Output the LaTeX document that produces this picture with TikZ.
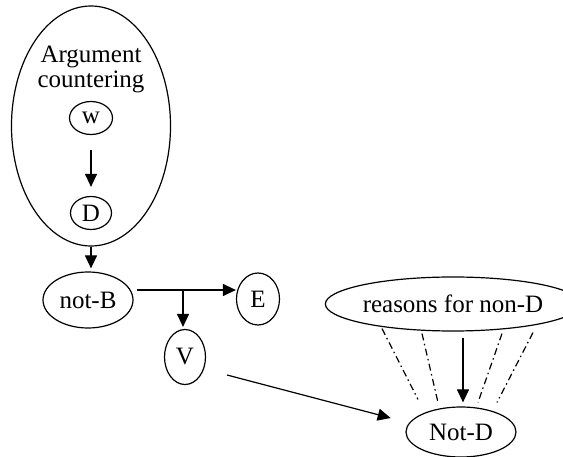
\documentclass[tikz,border=0pt]{standalone}
\usepackage{fontspec}
\setmainfont{Liberation Serif}
\usetikzlibrary{shapes.geometric,arrows.meta,calc}
\begin{document}
\begin{tikzpicture}[x=1pt,y=-1pt,
  every node/.style={font=\fontsize{25}{24.5}\selectfont},
  oval/.style={draw,ellipse,line width=1.2pt,inner sep=0pt},
  arr/.style={line width=1.2pt,-{Triangle[length=13pt,width=12pt]}},
  dd/.style={line width=1.2pt,dash pattern=on 7pt off 3.5pt on 1.5pt off 3.5pt}]
\useasboundingbox (0,0) rectangle (563,457);
\node[oval,minimum width=159pt,minimum height=240pt] (arg) at (91,126) {};
\node[align=center,inner sep=0pt] (argtxt) at (91,69.5) {Argument\\countering};
\node[oval,minimum width=43pt,minimum height=33pt] (w) at (91,118) {w};
\node[oval,minimum width=41pt,minimum height=33pt] (D) at (91,213) {D};
\node[oval,minimum width=90pt,minimum height=56pt] (notB) at (88,300) {not-B};
\node[oval,minimum width=43pt,minimum height=52pt] (E) at (258,299) {E};
\node[oval,minimum width=41pt,minimum height=55pt] (V) at (185,357) {V};
\node[oval,minimum width=220pt,minimum height=54pt] (reasons) at (453,304) {reasons for non-D};
\node[oval,minimum width=110pt,minimum height=50pt] (NotD) at (461,432) {Not-D};
\coordinate (j) at (183,290);
\draw[arr,shorten <=15pt,shorten >=9pt] (w) -- (D);
\draw[arr,shorten >=3pt] (arg.south) -- (notB.north -| arg.south);
\draw[line width=1.2pt] (notB.east |- j) ++(3,0) -- (j);
\draw[arr] (j) -- (E.west |- j);
\draw[arr,shorten >=2pt] (j) -- (V.north -| j);
\coordinate (vs) at (227,375);
\draw[arr,shorten >=19pt] (vs) -- (NotD.170);
\draw[arr] ($(reasons.south)+(10,6)$) -- ($(NotD.north)+(2,-4)$);
\draw[dd] ($(reasons.south)+(-71,-3)$) -- ($(NotD.north)+(-43,-7)$);
\draw[dd] ($(reasons.south)+(-31,2)$) -- ($(NotD.north)+(-23,-4)$);
\draw[dd] ($(reasons.south)+(49,2)$) -- ($(NotD.north)+(17,-4)$);
\draw[dd] ($(reasons.south)+(80,1)$) -- ($(NotD.north)+(36,-4)$);
\end{tikzpicture}
\end{document}
